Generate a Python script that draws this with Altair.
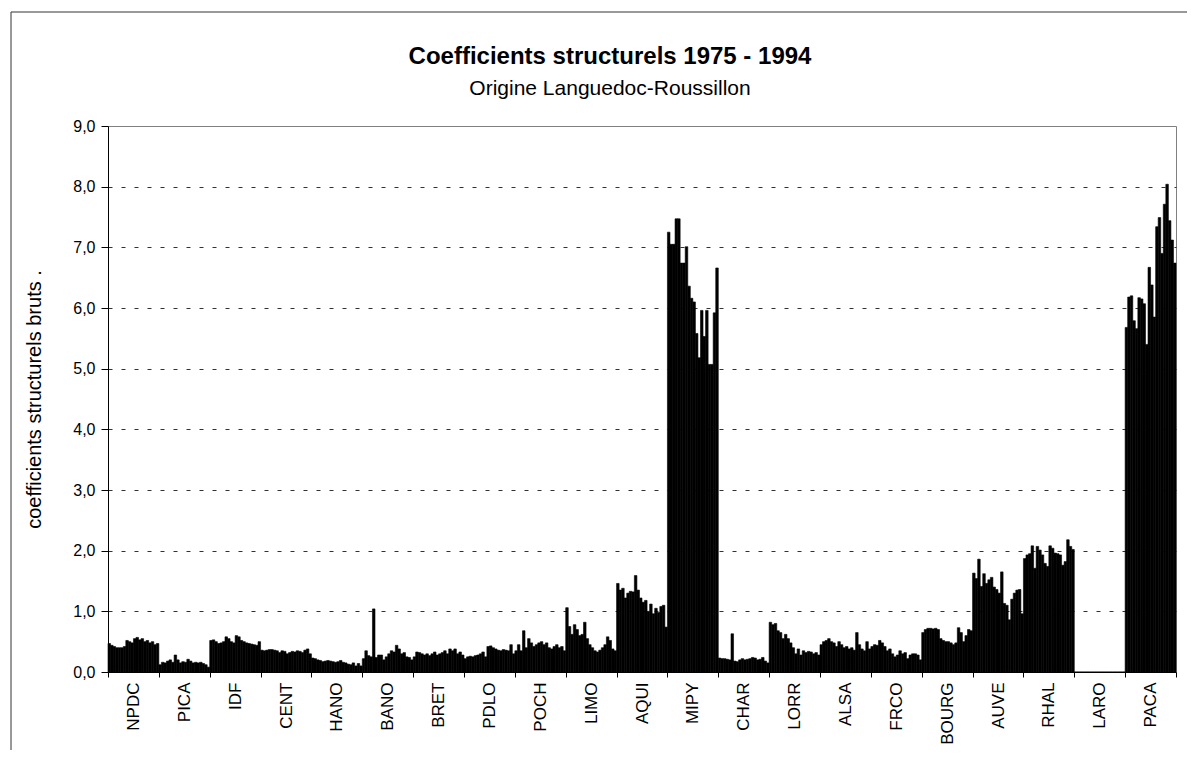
import altair as alt
import pandas as pd

regions = ["NPDC", "PICA", "IDF", "CENT", "HANO", "BANO", "BRET", "PDLO", "POCH", "LIMO",
           "AQUI", "MIPY", "CHAR", "LORR", "ALSA", "FRCO", "BOURG", "AUVE", "RHAL", "LARO", "PACA"]
years = list(range(1975, 1995))

NPDC = [0.47, 0.44, 0.42, 0.40, 0.40, 0.40, 0.42, 0.52, 0.50, 0.48, 0.55, 0.57, 0.53, 0.55, 0.50, 0.52, 0.48, 0.50, 0.45, 0.47]
PICA = [0.12, 0.16, 0.15, 0.18, 0.20, 0.16, 0.28, 0.20, 0.15, 0.17, 0.16, 0.21, 0.18, 0.15, 0.16, 0.15, 0.16, 0.14, 0.12, 0.08]
IDF = [0.52, 0.53, 0.50, 0.47, 0.48, 0.50, 0.58, 0.55, 0.50, 0.48, 0.60, 0.58, 0.52, 0.50, 0.48, 0.47, 0.46, 0.45, 0.44, 0.50]
CENT = [0.36, 0.35, 0.36, 0.37, 0.37, 0.36, 0.35, 0.32, 0.35, 0.34, 0.30, 0.32, 0.34, 0.33, 0.35, 0.34, 0.32, 0.36, 0.38, 0.30]
HANO = [0.23, 0.22, 0.20, 0.19, 0.17, 0.18, 0.19, 0.18, 0.17, 0.16, 0.17, 0.19, 0.16, 0.15, 0.13, 0.12, 0.15, 0.10, 0.14, 0.10]
BANO = [0.22, 0.35, 0.27, 0.25, 1.04, 0.24, 0.28, 0.28, 0.20, 0.25, 0.30, 0.35, 0.33, 0.44, 0.38, 0.30, 0.32, 0.25, 0.24, 0.20]
BRET = [0.25, 0.33, 0.32, 0.30, 0.28, 0.30, 0.27, 0.30, 0.33, 0.28, 0.30, 0.32, 0.35, 0.30, 0.38, 0.35, 0.38, 0.30, 0.33, 0.28]
PDLO = [0.22, 0.25, 0.26, 0.25, 0.27, 0.28, 0.30, 0.33, 0.25, 0.42, 0.43, 0.40, 0.38, 0.36, 0.35, 0.37, 0.36, 0.35, 0.45, 0.30]
POCH = [0.35, 0.45, 0.35, 0.68, 0.40, 0.55, 0.48, 0.42, 0.45, 0.48, 0.50, 0.45, 0.48, 0.40, 0.38, 0.42, 0.45, 0.40, 0.42, 0.35]
LIMO = [1.06, 0.75, 0.62, 0.78, 0.70, 0.60, 0.62, 0.82, 0.55, 0.45, 0.40, 0.35, 0.33, 0.36, 0.40, 0.45, 0.58, 0.52, 0.38, 0.35]
AQUI = [1.46, 1.35, 1.38, 1.22, 1.30, 1.33, 1.32, 1.59, 1.35, 1.22, 1.15, 1.18, 1.00, 1.12, 0.96, 1.05, 0.98, 1.08, 1.10, 0.74]
MIPY = [7.25, 7.05, 7.05, 7.47, 7.47, 6.74, 6.74, 7.01, 6.36, 6.16, 6.10, 5.58, 5.18, 5.96, 5.53, 5.96, 5.07, 5.07, 5.92, 6.66]
CHAR = [0.23, 0.22, 0.22, 0.21, 0.20, 0.63, 0.18, 0.17, 0.20, 0.22, 0.20, 0.21, 0.22, 0.24, 0.23, 0.20, 0.21, 0.24, 0.18, 0.15]
LORR = [0.82, 0.78, 0.80, 0.68, 0.65, 0.55, 0.62, 0.55, 0.48, 0.40, 0.30, 0.38, 0.28, 0.35, 0.32, 0.34, 0.33, 0.30, 0.32, 0.28]
ALSA = [0.45, 0.50, 0.52, 0.55, 0.50, 0.48, 0.42, 0.50, 0.45, 0.40, 0.42, 0.38, 0.40, 0.36, 0.65, 0.45, 0.38, 0.35, 0.50, 0.38]
FRCO = [0.42, 0.45, 0.44, 0.52, 0.48, 0.42, 0.35, 0.38, 0.30, 0.25, 0.28, 0.35, 0.30, 0.32, 0.22, 0.28, 0.30, 0.30, 0.28, 0.20]
BOURG = [0.65, 0.70, 0.72, 0.72, 0.71, 0.72, 0.70, 0.55, 0.52, 0.50, 0.50, 0.48, 0.45, 0.48, 0.73, 0.65, 0.50, 0.60, 0.70, 0.68]
AUVE = [1.63, 1.54, 1.86, 1.41, 1.62, 1.46, 1.52, 1.56, 1.40, 1.36, 1.30, 1.65, 1.13, 1.10, 0.86, 1.20, 1.30, 1.35, 1.36, 0.96]
RHAL = [1.87, 1.93, 1.95, 2.08, 1.71, 2.07, 2.01, 1.93, 1.79, 1.74, 2.08, 2.04, 1.96, 1.95, 1.93, 1.76, 1.82, 2.18, 2.07, 2.02]
LARO = [0.0] * 20
PACA = [5.68, 6.18, 6.20, 5.79, 5.66, 6.17, 6.15, 6.07, 5.40, 6.67, 6.38, 5.85, 7.34, 7.49, 6.90, 7.71, 8.04, 7.44, 7.12, 6.74]

series = [NPDC, PICA, IDF, CENT, HANO, BANO, BRET, PDLO, POCH, LIMO, AQUI, MIPY, CHAR,
          LORR, ALSA, FRCO, BOURG, AUVE, RHAL, LARO, PACA]

title_text = "Coefficients structurels 1975 - 1994"
subtitle_text = "Origine Languedoc-Roussillon"
y_title = "coefficients structurels bruts  ."

rows = []
for r, (name, vals) in enumerate(zip(regions, series)):
    for k, (yr, v) in enumerate(zip(years, vals)):
        idx = r * len(years) + k
        rows.append({"region": name, "annee": yr, "i": idx, "i1": idx + 1, "valeur": v})
df = pd.DataFrame(rows)
titles = pd.DataFrame({"t": [title_text], "s": [subtitle_text]})

n = len(regions) * len(years)
W, H = 1068, 546
FONT = "Liberation Sans"

label_array = "[" + ",".join("'%s'" % r for r in regions) + "]"

xscale = alt.Scale(domain=[0, n], nice=False, zero=False)
yscale = alt.Scale(domain=[0, 9], nice=False)

bars = alt.Chart(df).mark_rect(color="black", stroke="black", strokeWidth=0.6).encode(
    x=alt.X("i:Q", scale=xscale, axis=alt.Axis(
        values=list(range(0, n + 1, len(years))),
        labelExpr="datum.value < %d ? %s[round(datum.value / %d)] : ''" % (n, label_array, len(years)),
        labelAngle=270, labelOffset=W / len(regions) / 2, labelPadding=5,
        labelFontSize=17, labelFont=FONT, labelColor="black",
        tickSize=5, tickColor="black", domainColor="black",
        grid=False, title=None, labelOverlap=False, labelBound=False)),
    x2="i1:Q",
    y=alt.Y("valeur:Q", scale=yscale, axis=alt.Axis(
        values=list(range(0, 10)),
        labelExpr="replace(format(datum.value, '.1f'), '.', ',')",
        labelFontSize=16, labelFont=FONT, labelColor="black", labelPadding=6,
        tickSize=7, tickColor="black", domainColor="black",
        grid=True, gridDash=[4, 9],
        gridColor=alt.condition("datum.value == 9 || datum.value == 0",
                                alt.value("transparent"), alt.value("#333333")),
        title=y_title, titleFont=FONT, titleFontSize=20,
        titleFontWeight="normal", titleColor="black", titlePadding=28)),
    y2=alt.datum(0),
)

title_mark = alt.Chart(titles).mark_text(
    font=FONT, fontSize=24, fontWeight="bold", color="black", align="center", baseline="alphabetic"
).encode(text="t:N", x=alt.value(502), y=alt.value(-62))

subtitle_mark = alt.Chart(titles).mark_text(
    font=FONT, fontSize=21, color="black", align="center", baseline="alphabetic"
).encode(text="s:N", x=alt.value(502), y=alt.value(-31))

frame_left = alt.Chart(titles).mark_rule(color="#333333", strokeWidth=1).encode(
    x=alt.value(-97), y=alt.value(-114), y2=alt.value(H + 78))
frame_top = alt.Chart(titles).mark_rule(color="#333333", strokeWidth=1).encode(
    x=alt.value(-97), x2=alt.value(W + 12), y=alt.value(-114))

chart = alt.layer(bars, title_mark, subtitle_mark, frame_left, frame_top).properties(
    width=W, height=H,
    autosize=alt.AutoSizeParams(type="none"),
    padding={"left": 100, "top": 118, "right": 11, "bottom": 78},
).configure_view(stroke="#808080", strokeWidth=1)

chart.save("out.html", embed_options={"renderer": "svg", "actions": False})
